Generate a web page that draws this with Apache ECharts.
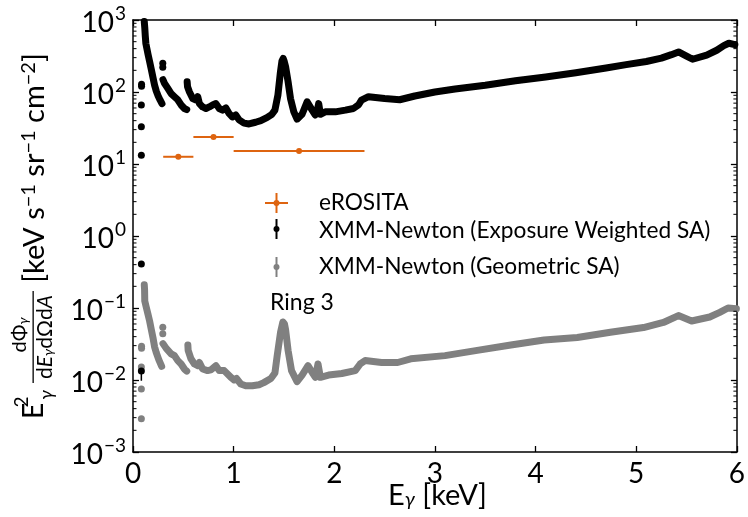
<!DOCTYPE html>
<html><head><meta charset="utf-8">
<script src="https://cdn.jsdelivr.net/npm/echarts@6/dist/echarts.min.js"></script>
<style>html,body{margin:0;padding:0;background:#fff}#c{width:748px;height:517px}</style>
</head><body><div id="c"></div>
<script>
// ---- data ----
const xTicks = [0, 1, 2, 3, 4, 5, 6];
const yTicks = [1e-3, 1e-2, 1e-1, 1e0, 1e1, 1e2, 1e3];

// XMM-Newton, exposure-weighted SA (black), null = gap between segments
const ewE = [0.112,0.117,0.122,0.128,0.138,0.15,0.165,0.182,0.198,0.214,0.231,0.25,0.27,0.288,null,
  0.298,0.313,0.346,0.379,0.412,0.445,0.478,0.511,0.534,null,
  0.538,0.542,0.561,0.594,0.627,0.643,0.66,0.692,0.725,0.758,0.791,0.824,0.857,0.89,0.923,0.956,0.988,1.021,1.054,1.103,1.153,1.218,1.27,1.33,1.38,1.41,1.44,1.465,1.48,1.492,1.503,1.516,1.541,1.565,1.598,1.63,1.68,1.73,1.78,1.81,1.83,1.845,1.862,1.91,2.01,2.11,2.19,2.24,2.27,2.34,2.5,2.65,2.8,3.0,3.2,3.5,3.8,4.1,4.4,4.7,4.9,5.1,5.25,5.35,5.42,5.5,5.56,5.7,5.8,5.87,5.92,5.98];
const ewV = [950,780,600,470,400,330,265,205,160,125,103,88,77,69,null,
  148,132,112,95,86,78,66,59,57,null,
  139,118,100,81,77,86,69,62,59,62,66,69,59,56,60,50,45,48,41,37,36,38,40,44,49,56,91,190,270,292,265,225,139,81,53,42,49,73,56,48,55,69,49,53,53,56,59,66,77,86,81,78,88,100,110,124,143,162,185,215,240,265,295,330,360,315,285,325,380,440,475,455];
const ewLowE = [0.083,0.083,0.083,0.085,0.085,0.083,0.083,0.296,0.296];
const ewLowV = [13.2,33,66,120,128,0.41,0.0133,250,220];

// XMM-Newton, geometric SA (grey)
const geoE = [0.112,0.115,0.117,0.13,0.148,0.165,0.182,0.198,0.214,0.231,0.257,0.285,null,
  0.298,0.33,0.379,0.412,0.445,0.478,0.511,0.534,null,
  0.545,0.548,0.576,0.61,0.643,0.66,0.692,0.741,0.774,0.824,0.857,0.906,0.923,0.972,1.005,1.028,1.071,1.12,1.186,1.252,1.3,1.37,1.41,1.433,1.466,1.489,1.505,1.516,1.541,1.575,1.63,1.68,1.739,1.789,1.812,1.838,1.862,1.944,2.075,2.208,2.257,2.306,2.47,2.63,2.76,3.1,3.42,3.754,4.085,4.414,4.743,5.072,5.27,5.419,5.55,5.73,5.83,5.912,5.995];
const geoV = [0.21,0.18,0.125,0.105,0.083,0.066,0.05,0.039,0.029,0.024,0.019,0.0155,null,
  0.032,0.0275,0.0231,0.0218,0.0186,0.0167,0.0142,0.0133,null,
  0.0307,0.0258,0.0197,0.0167,0.0158,0.0175,0.0142,0.0135,0.0138,0.0158,0.0135,0.0135,0.0142,0.0109,0.010,0.0105,0.0088,0.0083,0.0083,0.0086,0.0092,0.0105,0.0125,0.022,0.046,0.064,0.06,0.05,0.0257,0.0135,0.0095,0.0117,0.0158,0.0122,0.0109,0.0167,0.0109,0.0117,0.0123,0.0135,0.0167,0.0186,0.0175,0.0175,0.0197,0.0218,0.0258,0.0307,0.0359,0.039,0.046,0.0535,0.063,0.0785,0.066,0.075,0.087,0.10,0.098];
const geoLowE = [0.083,0.083,0.083,0.085,0.085,0.296,0.296];
const geoLowV = [0.0029,0.0075,0.0151,0.0275,0.0295,0.054,0.044];

// eROSITA bins
const eroE = [0.45, 0.8, 1.65];
const eroLo = [0.3, 0.6, 1.0];
const eroHi = [0.6, 1.0, 2.3];
const eroV = [12.6, 23.8, 15.2];

// black error bar on the low-energy point
const ewErrE = [0.083, 0.083];
const ewErrV = [0.0133, 0.0098];

const minorMult = [2,3,4,5,6,7,8,9];

// ---- build ----
const pairs = (xs, ys) => xs.map((x, i) => x === null ? ['-', '-'] : [x, ys[i]]);
const minorVals = [];
for (let d = 0; d < yTicks.length - 1; d++) minorMult.forEach(m => minorVals.push([m * yTicks[d]]));

const FONT = 'Lato';
const ORANGE = '#de6410';
const GREY = '#808080';
const BASE_FONT = '28px Lato';
const SUP_FONT = '19px Lato';

const mctx = document.createElement('canvas').getContext('2d');
function textW(t, f) { mctx.font = f; return mctx.measureText(t).width; }
function expText(v) {
  const e = Math.round(Math.log10(v));
  return e < 0 ? '\u2212' + (-e) : String(e);
}

const chart = echarts.init(document.getElementById('c'), null, {renderer: 'canvas'});

const axisLineStyle = {color: '#000', width: 1.5};
const tickStyle = {show: true, inside: true, length: 6, lineStyle: {color: '#000', width: 1.3}};

chart.setOption({
  animation: false,
  backgroundColor: '#fff',
  grid: {left: 133, right: 7, top: 20, bottom: 65, show: false},
  xAxis: [{
    type: 'value', min: xTicks[0], max: xTicks[xTicks.length - 1], interval: 1,
    axisLine: {show: true, onZero: false, lineStyle: axisLineStyle},
    axisTick: tickStyle, splitLine: {show: false},
    axisLabel: {color: '#000', fontFamily: FONT, fontSize: 28, margin: 8}
  }, {
    type: 'value', position: 'top', min: xTicks[0], max: xTicks[xTicks.length - 1], interval: 1,
    axisLine: {show: true, onZero: false, lineStyle: axisLineStyle},
    axisTick: tickStyle, splitLine: {show: false}, axisLabel: {show: false}
  }],
  yAxis: [{
    type: 'log', logBase: 10, min: yTicks[0], max: yTicks[yTicks.length - 1],
    axisLine: {show: true, onZero: false, lineStyle: axisLineStyle},
    axisTick: tickStyle, splitLine: {show: false}, axisLabel: {show: false}
  }, {
    type: 'log', logBase: 10, position: 'right', min: yTicks[0], max: yTicks[yTicks.length - 1],
    axisLine: {show: true, onZero: false, lineStyle: axisLineStyle},
    axisTick: tickStyle, splitLine: {show: false}, axisLabel: {show: false}
  }],
  series: [
    { // minor log ticks (left & right)
      type: 'custom', silent: true, clip: false, z: 5,
      data: minorVals,
      encode: {y: 0},
      renderItem: function (params, api) {
        const v = api.value(0);
        const l = api.coord([xTicks[0], v]);
        const r = api.coord([xTicks[xTicks.length - 1], v]);
        const st = {stroke: '#000', lineWidth: 1};
        return {type: 'group', children: [
          {type: 'line', shape: {x1: l[0], y1: l[1], x2: l[0] + 3.5, y2: l[1]}, style: st},
          {type: 'line', shape: {x1: r[0], y1: r[1], x2: r[0] - 3.5, y2: r[1]}, style: st}
        ]};
      }
    },
    { // y tick labels 10^n, placed through the log scale
      type: 'custom', silent: true, clip: false, z: 5,
      data: yTicks.map(v => [v]),
      encode: {y: 0},
      renderItem: function (params, api) {
        const v = api.value(0);
        const p = api.coord([xTicks[0], v]);
        const ex = expText(v);
        const ew = textW(ex, SUP_FONT);
        const bw = textW('10', BASE_FONT);
        const right = p[0] - 7;
        return {type: 'group', children: [
          {type: 'text', x: right - ew - bw - 1, y: p[1] + 3, style: {text: '10', font: BASE_FONT, fill: '#000', align: 'left', verticalAlign: 'middle'}},
          {type: 'text', x: right - ew, y: p[1] - 6, style: {text: ex, font: SUP_FONT, fill: '#000', align: 'left', verticalAlign: 'middle'}}
        ]};
      }
    },
    {
      name: 'XMM-Newton (Geometric SA)', type: 'line', data: pairs(geoE, geoV),
      showSymbol: false, connectNulls: false, clip: true,
      lineStyle: {color: GREY, width: 7, cap: 'round', join: 'round'}, z: 2
    },
    {
      type: 'scatter', data: pairs(geoLowE, geoLowV), symbolSize: 7,
      itemStyle: {color: GREY, opacity: 1}, z: 2
    },
    {
      name: 'XMM-Newton (Exposure Weighted SA)', type: 'line', data: pairs(ewE, ewV),
      showSymbol: false, connectNulls: false, clip: true,
      lineStyle: {color: '#000', width: 7, cap: 'round', join: 'round'}, z: 3
    },
    {
      type: 'scatter', data: pairs(ewLowE, ewLowV), symbolSize: 7,
      itemStyle: {color: '#000', opacity: 1}, z: 3
    },
    {
      type: 'line', data: pairs(ewErrE, ewErrV), showSymbol: false,
      lineStyle: {color: '#000', width: 1.5}, z: 3
    },
    {
      name: 'eROSITA', type: 'custom', z: 4,
      data: eroE.map((e, i) => [e, eroV[i], eroLo[i], eroHi[i]]),
      encode: {x: 0, y: 1},
      renderItem: function (params, api) {
        const c = api.coord([api.value(0), api.value(1)]);
        const a = api.coord([api.value(2), api.value(1)]);
        const b = api.coord([api.value(3), api.value(1)]);
        return {type: 'group', children: [
          {type: 'line', shape: {x1: a[0], y1: a[1], x2: b[0], y2: b[1]}, style: {stroke: ORANGE, lineWidth: 2}},
          {type: 'circle', shape: {cx: c[0], cy: c[1], r: 3}, style: {fill: ORANGE}}
        ]};
      }
    }
  ],
  graphic: [
    // x-axis title
    {type: 'text', left: 388, top: 481, style: {
      text: '{m|E}{sub|\u03b3}{m| [keV]}', fill: '#000',
      rich: {m: {fontFamily: FONT, fontSize: 29}, sub: {fontFamily: FONT, fontSize: 20, fontStyle: 'italic', verticalAlign: 'bottom', padding: [9, 0, 0, 0]}}
    }},
    // y-axis title pieces (rotated)
    {type: 'text', x: 34, y: 411, rotation: Math.PI / 2, style: {
      text: 'E', align: 'center', verticalAlign: 'middle', fill: '#000', font: '28px Lato'
    }},
    {type: 'text', x: 22, y: 402, rotation: Math.PI / 2, style: {
      text: '2', align: 'center', verticalAlign: 'middle', fill: '#000', font: '19px Lato'
    }},
    {type: 'text', x: 47, y: 395, rotation: Math.PI / 2, style: {
      text: '\u03b3', align: 'center', verticalAlign: 'middle', fill: '#000', font: 'italic 19px Lato'
    }},
    {type: 'text', x: 20, y: 335, rotation: Math.PI / 2, style: {
      text: 'd\u03a6{s|\u03b3}', align: 'center', verticalAlign: 'middle', fill: '#000', font: '20px Lato',
      rich: {s: {fontFamily: FONT, fontSize: 14, fontStyle: 'italic', verticalAlign: 'bottom', padding: [7, 0, 0, 0]}}
    }},
    {type: 'rect', shape: {x: 32.5, y: 291, width: 1.3, height: 92}, style: {fill: '#000'}},
    {type: 'text', x: 45, y: 337, rotation: Math.PI / 2, style: {
      text: 'd{i|E}{s|\u03b3}d\u03a9d{i|A}', align: 'center', verticalAlign: 'middle', fill: '#000', font: '21px Lato',
      rich: {i: {fontFamily: FONT, fontSize: 21, fontStyle: 'italic'}, s: {fontFamily: FONT, fontSize: 14, fontStyle: 'italic', verticalAlign: 'bottom', padding: [7, 0, 0, 0]}}
    }},
    {type: 'text', x: 35, y: 168, rotation: Math.PI / 2, style: {
      text: '{m|[keV s}{s|\u22121}{m| sr}{s|\u22121}{m| cm}{s|\u22122}{m|]}', align: 'center', verticalAlign: 'middle', fill: '#000',
      rich: {m: {fontFamily: FONT, fontSize: 29, lineHeight: 32}, s: {fontFamily: FONT, fontSize: 20, lineHeight: 20, verticalAlign: 'top', padding: [0, 0, 12, 0]}}
    }},
    // legend
    {type: 'line', shape: {x1: 265, y1: 203, x2: 288, y2: 203}, style: {stroke: ORANGE, lineWidth: 2}},
    {type: 'line', shape: {x1: 276.5, y1: 193, x2: 276.5, y2: 213}, style: {stroke: ORANGE, lineWidth: 2}},
    {type: 'circle', shape: {cx: 276.5, cy: 203, r: 3}, style: {fill: ORANGE}},
    {type: 'text', x: 319, y: 203, style: {text: 'eROSITA', font: '22.7px Lato', fill: '#000', verticalAlign: 'middle'}},
    {type: 'line', shape: {x1: 276.5, y1: 219, x2: 276.5, y2: 239}, style: {stroke: '#000', lineWidth: 2}},
    {type: 'circle', shape: {cx: 276.5, cy: 229, r: 3}, style: {fill: '#000'}},
    {type: 'text', x: 319, y: 231, style: {text: 'XMM-Newton (Exposure Weighted SA)', font: '22.7px Lato', fill: '#000', verticalAlign: 'middle'}},
    {type: 'line', shape: {x1: 276.5, y1: 257, x2: 276.5, y2: 277}, style: {stroke: GREY, lineWidth: 2}},
    {type: 'circle', shape: {cx: 276.5, cy: 267, r: 3}, style: {fill: GREY}},
    {type: 'text', x: 319, y: 267, style: {text: 'XMM-Newton (Geometric SA)', font: '22.7px Lato', fill: '#000', verticalAlign: 'middle'}},
    // annotation
    {type: 'text', x: 302, y: 303, style: {text: 'Ring 3', font: '23px Lato', fill: '#000', align: 'center', verticalAlign: 'middle'}}
  ]
});
</script>
</body></html>
